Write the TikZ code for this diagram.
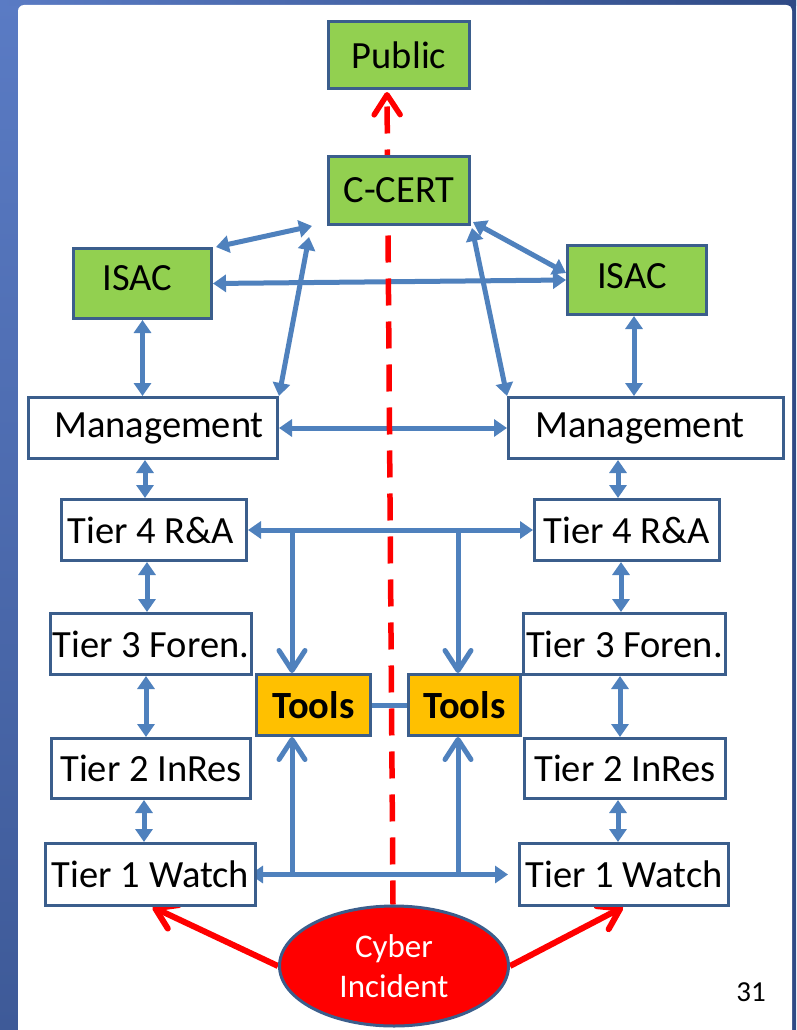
\documentclass[tikz,border=0pt]{standalone}
\usepackage{fontspec}
\setmainfont{Carlito}
\usetikzlibrary{arrows.meta,shapes.geometric,calc}
\definecolor{bxline}{HTML}{3B5E8C}
\definecolor{arblue}{HTML}{4F81BD}
\definecolor{grn}{HTML}{92D050}
\definecolor{tool}{HTML}{FFC000}
\definecolor{bgtop}{HTML}{5A7BC4}
\definecolor{bgbot}{HTML}{3E5A98}
\definecolor{bgdark}{HTML}{2F4A85}
\pgfdeclarelayer{bg}
\pgfdeclarelayer{lines}
\pgfsetlayers{bg,lines,main}
\begin{document}
\begin{tikzpicture}[x=1pt,y=-1pt,
  box/.style={draw=bxline, line width=3pt, inner sep=0pt, font=\fontsize{38.5}{46}\selectfont, text=black},
  gbox/.style={box, fill=grn},
  wbox/.style={box, fill=white},
  tbox/.style={box, fill=tool, font=\fontsize{38.5}{46}\selectfont\bfseries},
  barrow/.style={draw=arblue, line width=5pt, {Triangle[width=17pt,length=13pt]}-{Triangle[width=17pt,length=13pt]}},
  vline/.style={draw=arblue, line width=5pt},
  varrow/.style={vline, -{Straight Barb[length=20pt,width=26pt,round]}},
  rarrow/.style={draw=red, line width=6pt, -{Straight Barb[length=20pt,width=26pt,round]}},
  rdash/.style={draw=red, line width=5.5pt, dash pattern=on 27pt off 16pt, dash phase=34pt, {Straight Barb[length=20pt,width=26pt,round]}-}
]
\useasboundingbox (0,0) rectangle (796,1030);
\begin{pgfonlayer}{bg}
\shade[top color=bgtop, bottom color=bgbot] (0,0) rectangle (796,1030);
\shade[left color=bgtop, right color=bgdark] (0,0) rectangle (796,6);
\fill[bgdark] (791,0) rectangle (796,1030);
\fill[white, rounded corners=6pt] (18,5) rectangle (792,1045);
\end{pgfonlayer}

% nodes
\node[gbox, minimum width=141pt, minimum height=67pt] (pub) at (399,55) {Public};
\node[gbox, minimum width=141pt, minimum height=68pt] (cc) at (399,190.5) {C-CERT};
\node[gbox, minimum width=138pt, minimum height=70pt] (isacL) at (142.5,283.5) {\hspace*{-10pt}\raisebox{5pt}[\height][\depth]{ISAC}};
\node[gbox, minimum width=139pt, minimum height=69pt] (isacR) at (637,280) {\hspace*{-10pt}\raisebox{4pt}[\height][\depth]{ISAC}};
\node[wbox, minimum width=249pt, minimum height=61pt] (mgL) at (153,428) {\hspace*{12pt}Management};
\node[wbox, minimum width=275pt, minimum height=61pt] (mgR) at (646,428) {Management\hspace*{12pt}};
\node[wbox, minimum width=185pt, minimum height=61pt] (t4L) at (154,530) {Tier 4 R\&A\hspace*{6pt}};
\node[wbox, minimum width=185pt, minimum height=61pt] (t4R) at (627,530) {Tier 4 R\&A};
\node[wbox, minimum width=201pt, minimum height=61pt] (t3L) at (151,644) {Tier 3 Foren.};
\node[wbox, minimum width=202pt, minimum height=61pt] (t3R) at (624.5,644) {Tier 3 Foren.};
\node[tbox, minimum width=114pt, minimum height=61pt] (toolsL) at (313.5,705) {Tools};
\node[tbox, minimum width=112pt, minimum height=61pt] (toolsR) at (464.5,705) {Tools};
\node[wbox, minimum width=199pt, minimum height=60pt] (t2L) at (151,768.5) {Tier 2 InRes};
\node[wbox, minimum width=201pt, minimum height=60pt] (t2R) at (625,768.5) {Tier 2 InRes};
\node[wbox, minimum width=210pt, minimum height=62pt] (t1L) at (150.5,874.5) {Tier 1 Watch};
\node[wbox, minimum width=209pt, minimum height=62pt] (t1R) at (624,874.5) {Tier 1 Watch};
\node[ellipse, draw=bxline, line width=3pt, fill=red, text=white, inner sep=0pt,
      minimum width=229pt, minimum height=120pt, align=center,
      font=\fontsize{33}{40}\selectfont] (inc) at (394,966) {Cyber\\Incident};
\node[font=\fontsize{29}{34}\selectfont, inner sep=0pt] (pg) at (751,992) {31};

% helper coordinates
\coordinate (cL) at ($(cc.south west)+(-15,0)$);
\coordinate (cL2) at ($(cc.south west)+(-18,11)$);
\coordinate (v1) at (isacL.south);
\coordinate (v2) at ([xshift=-3pt]isacR.south);
\coordinate (v3) at ([xshift=-8pt]mgL.south);
\coordinate (v4) at ([xshift=-28pt]mgR.south);
\coordinate (v5) at ([xshift=-7pt]t4L.south);
\coordinate (v6) at ([xshift=-6pt]t4R.south);
\coordinate (v7) at ([xshift=-5pt]t3L.south);
\coordinate (v8) at ([xshift=-4.5pt]t3R.south);
\coordinate (v9) at ([xshift=-7pt]t2L.south);
\coordinate (v10) at ([xshift=-7pt]t2R.south);
\coordinate (jL) at ([xshift=-21.5pt]toolsL.north);
\coordinate (jR) at ([xshift=-6.5pt]toolsR.north);

\begin{pgfonlayer}{lines}
% top region
\draw[barrow] ($(isacL.north east)+(3,0)$) -- (cL);
\draw[barrow] (mgL.north east) -- (cL2);
\draw[barrow] (isacL.east) -- (isacR.west);
\draw[barrow] ($(cc.south east)+(2,-4)$) -- ($(isacR.west)+(0,-7)$);
\draw[barrow] ($(cc.south east)+(1,2)$) -- (mgR.north west);
\draw[barrow] (v1) -- (v1 |- mgL.north);
\draw[barrow] (v2) -- (v2 |- mgR.north);
\draw[barrow] (mgL.east) -- (mgR.west);
% tier chains
\draw[barrow] (v3) -- (v3 |- t4L.north);
\draw[barrow] (v4) -- (v4 |- t4R.north);
\draw[barrow] (v5) -- (v5 |- t3L.north);
\draw[barrow] (v6) -- (v6 |- t3R.north);
\draw[barrow] (v7) -- (v7 |- t2L.north);
\draw[barrow] (v8) -- (v8 |- t2R.north);
\draw[barrow] (v9) -- (v9 |- t1L.north);
\draw[barrow] (v10) -- (v10 |- t1R.north);
% tier 4 bus
\draw[barrow] (t4L.east) -- (t4R.west);
\draw[varrow] (jL |- t4L.east) -- (jL);
\draw[varrow] (jR |- t4R.west) -- (jR);
% tier 1 bus
\draw[barrow] ($(t1L.east)+(-7,0)$) -- ($(t1R.west)+(-10,0)$);
\draw[varrow] (jL |- t1L.east) -- (jL |- toolsL.south);
\draw[varrow] (jR |- t1R.west) -- (jR |- toolsR.south);
% tools link
\draw[vline] (toolsL.east) -- (toolsR.west);
% red
\draw[rdash] ($(pub.south)+(-12,2)$) -- ($(inc.north)+(-1,0)$);
\draw[rarrow] (inc.west) -- ($(t1L.south)+(2,0)$);
\draw[rarrow] (inc.east) -- ($(t1R.south)+(-1,0)$);
\end{pgfonlayer}
\end{tikzpicture}
\end{document}
